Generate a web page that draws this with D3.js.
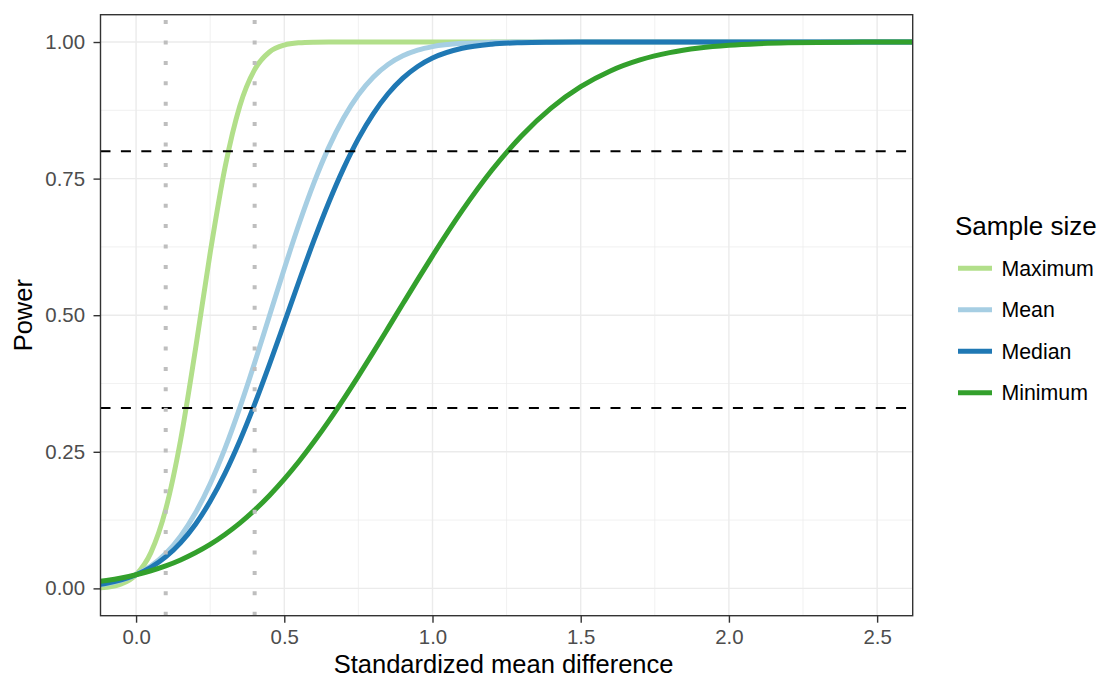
<!DOCTYPE html>
<html>
<head>
<meta charset="utf-8">
<script src="https://cdn.jsdelivr.net/npm/d3@7"></script>
<style>
  body { margin: 0; background: #fff; }
  text { font-family: "Liberation Sans", Arial, Helvetica, sans-serif; }
</style>
</head>
<body>
<svg id="chart" width="1099" height="677"></svg>
<script>
// ---- data ----
const effectSizes = [-0.12, -0.1, -0.05, 0, 0.05, 0.1, 0.15, 0.2, 0.25, 0.3, 0.35, 0.4, 0.45, 0.5,
  0.55, 0.6, 0.65, 0.7, 0.75, 0.8, 0.85, 0.9, 0.95, 1.0, 1.1, 1.2, 1.3, 1.4, 1.5, 1.6, 1.7,
  1.8, 1.9, 2.0, 2.1, 2.2, 2.3, 2.4, 2.5, 2.62];
const powerMaximum = [0.0012, 0.0021, 0.0080, 0.025, 0.0655, 0.1446, 0.2709, 0.4364, 0.6141, 0.7704,
  0.8830, 0.9495, 0.9817, 0.9945, 0.9986, 0.9997, 1, 1, 1, 1, 1, 1, 1, 1, 1, 1, 1, 1, 1, 1, 1,
  1, 1, 1, 1, 1, 1, 1, 1, 1];
const powerMean = [0.0065, 0.0083, 0.0147, 0.025, 0.0407, 0.0636, 0.0955, 0.1379, 0.1915, 0.2562,
  0.3309, 0.4129, 0.4990, 0.5851, 0.6673, 0.7422, 0.8072, 0.8610, 0.9036, 0.9357, 0.9589, 0.9747,
  0.9851, 0.9916, 0.9976, 0.9994, 0.9999, 1, 1, 1, 1, 1, 1, 1, 1, 1, 1, 1, 1, 1];
const powerMedian = [0.0077, 0.0095, 0.0157, 0.025, 0.0386, 0.0576, 0.0834, 0.1170, 0.1593, 0.2104,
  0.2701, 0.3372, 0.4100, 0.4860, 0.5626, 0.6368, 0.7063, 0.7688, 0.8232, 0.8686, 0.9053, 0.9338,
  0.9552, 0.9706, 0.9885, 0.9961, 0.9988, 0.9997, 1, 1, 1, 1, 1, 1, 1, 1, 1, 1, 1, 1];
const powerMinimum = [0.0129, 0.0145, 0.0191, 0.025, 0.0323, 0.0412, 0.0521, 0.0652, 0.0806, 0.0987,
  0.1195, 0.1433, 0.1701, 0.1999, 0.2326, 0.2682, 0.3062, 0.3465, 0.3886, 0.4320, 0.4763, 0.5209,
  0.5652, 0.6087, 0.6913, 0.7652, 0.8281, 0.8791, 0.9183, 0.9471, 0.9672, 0.9805, 0.9889, 0.9940,
  0.9969, 0.9985, 0.9993, 0.9997, 0.9999, 1];
const seriesNames = ["Maximum", "Mean", "Median", "Minimum"];
const seriesColors = ["#B2DF8A", "#A6CEE3", "#1F78B4", "#33A02C"];
const xTicks = [0, 0.5, 1.0, 1.5, 2.0, 2.5];
const xMinor = [0.25, 0.75, 1.25, 1.75, 2.25];
const yTicks = [0, 0.25, 0.5, 0.75, 1.0];
const yMinor = [0.125, 0.375, 0.625, 0.875];
const powerThresholds = [0.8, 0.33];
const effectMarkers = [0.1, 0.4];
const xTitle = "Standardized mean difference";
const yTitle = "Power";
const legendTitle = "Sample size";

// ---- layout ----
const svg = d3.select("#chart");
const P = { left: 100.5, right: 912.7, top: 14.7, bottom: 615.7 };
const x = d3.scaleLinear().domain([-0.12, 2.62]).range([P.left, P.right]);
const y = d3.scaleLinear().domain([-0.05, 1.05]).range([P.bottom, P.top]);

svg.append("rect").attr("width", 1099).attr("height", 677).attr("fill", "#fff");

svg.append("defs").append("clipPath").attr("id", "clip")
  .append("rect").attr("x", P.left).attr("y", P.top)
  .attr("width", P.right - P.left).attr("height", P.bottom - P.top);

const grid = svg.append("g");
grid.selectAll(".xmin").data(xMinor).join("line")
  .attr("x1", d => x(d)).attr("x2", d => x(d)).attr("y1", P.top).attr("y2", P.bottom)
  .attr("stroke", "#EBEBEB").attr("stroke-width", 0.7);
grid.selectAll(".ymin").data(yMinor).join("line")
  .attr("y1", d => y(d)).attr("y2", d => y(d)).attr("x1", P.left).attr("x2", P.right)
  .attr("stroke", "#EBEBEB").attr("stroke-width", 0.7);
grid.selectAll(".xmaj").data(xTicks).join("line")
  .attr("x1", d => x(d)).attr("x2", d => x(d)).attr("y1", P.top).attr("y2", P.bottom)
  .attr("stroke", "#EBEBEB").attr("stroke-width", 1.4);
grid.selectAll(".ymaj").data(yTicks).join("line")
  .attr("y1", d => y(d)).attr("y2", d => y(d)).attr("x1", P.left).attr("x2", P.right)
  .attr("stroke", "#EBEBEB").attr("stroke-width", 1.4);

// ---- curves ----
const allSeries = [powerMaximum, powerMean, powerMedian, powerMinimum];
const line = d3.line().x((d, i) => x(effectSizes[i])).y(d => y(d)).curve(d3.curveMonotoneX);
const plot = svg.append("g").attr("clip-path", "url(#clip)");
allSeries.forEach((s, k) => {
  plot.append("path").datum(s).attr("d", line)
    .attr("fill", "none").attr("stroke", seriesColors[k]).attr("stroke-width", 5)
    .attr("stroke-linejoin", "round");
});

// ---- reference lines ----
plot.selectAll(".hl").data(powerThresholds).join("line")
  .attr("x1", P.left).attr("x2", P.right).attr("y1", d => y(d)).attr("y2", d => y(d))
  .attr("stroke", "#000").attr("stroke-width", 2).attr("stroke-dasharray", "10,10.4");
plot.selectAll(".vl").data(effectMarkers).join("line")
  .attr("x1", d => x(d)).attr("x2", d => x(d)).attr("y1", P.bottom).attr("y2", P.top)
  .attr("stroke", "#BEBEBE").attr("stroke-width", 4).attr("stroke-dasharray", "4,16.4");

// ---- panel border ----
svg.append("rect").attr("x", P.left).attr("y", P.top)
  .attr("width", P.right - P.left).attr("height", P.bottom - P.top)
  .attr("fill", "none").attr("stroke", "#333333").attr("stroke-width", 1.4);

// ---- axes ----
const xAxis = d3.axisBottom(x).tickValues(xTicks).tickFormat(d3.format(".1f")).tickSize(7).tickPadding(7.3);
const yAxis = d3.axisLeft(y).tickValues(yTicks).tickFormat(d3.format(".2f")).tickSize(7).tickPadding(8.5);
const gx = svg.append("g").attr("transform", `translate(0,${P.bottom})`).call(xAxis);
const gy = svg.append("g").attr("transform", `translate(${P.left},0)`).call(yAxis);
[gx, gy].forEach(g => {
  g.select(".domain").remove();
  g.selectAll(".tick line").attr("stroke", "#333333").attr("stroke-width", 1.4);
  g.selectAll(".tick text").attr("fill", "#4D4D4D").style("font-size", "20.4px");
});

svg.append("text").attr("x", (P.left + P.right) / 2 - 3).attr("y", 673)
  .attr("text-anchor", "middle").style("font-size", "25.5px").attr("fill", "#000").text(xTitle);
svg.append("text").attr("transform", `translate(31.5,${(P.top + P.bottom) / 2}) rotate(-90)`)
  .attr("text-anchor", "middle").style("font-size", "25.5px").attr("fill", "#000").text(yTitle);

// ---- legend ----
const lg = svg.append("g");
lg.append("text").attr("x", 955).attr("y", 235).style("font-size", "26px").attr("fill", "#000").text(legendTitle);
seriesNames.forEach((name, k) => {
  const cy = 268.3 + k * 41.5;
  lg.append("line").attr("x1", 958).attr("x2", 992).attr("y1", cy).attr("y2", cy)
    .attr("stroke", seriesColors[k]).attr("stroke-width", 5);
  lg.append("text").attr("x", 1001.5).attr("y", cy + 7.5).style("font-size", "21.3px")
    .attr("fill", "#000").text(name);
});
</script>
</body>
</html>
